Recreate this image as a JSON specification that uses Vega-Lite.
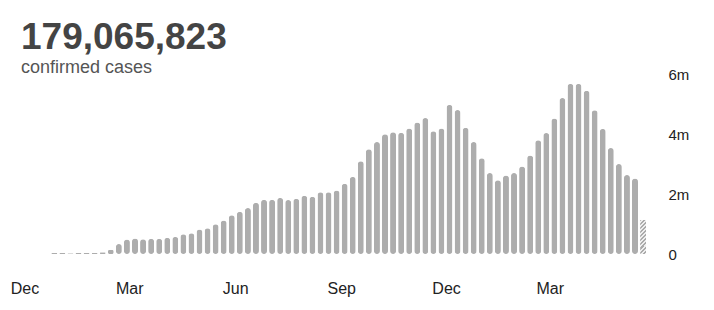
{
  "$schema": "https://vega.github.io/schema/vega-lite/v6.json",
  "width": 660,
  "height": 180,
  "autosize": {"type": "none"},
  "padding": {"left": 0, "top": 74, "right": 54, "bottom": 56},
  "background": "white",
  "config": {"view": {"stroke": null}, "font": "Liberation Sans"},
  "title": {
    "text": "179,065,823",
    "subtitle": "confirmed cases",
    "anchor": "start",
    "frame": "group",
    "font": "Liberation Sans",
    "fontSize": 37,
    "fontWeight": "bold",
    "color": "#444444",
    "subtitleFont": "Liberation Sans",
    "subtitleFontSize": 18,
    "subtitleColor": "#555555",
    "subtitlePadding": 2,
    "offset": 0,
    "dx": 21,
    "dy": 11
  },
  "data": {
    "values": [
      {"week": "2019-12-27", "cases": 30000, "partial": false},
      {"week": "2020-01-03", "cases": 30000, "partial": false},
      {"week": "2020-01-10", "cases": 25000, "partial": false},
      {"week": "2020-01-17", "cases": 30000, "partial": false},
      {"week": "2020-01-24", "cases": 30000, "partial": false},
      {"week": "2020-01-31", "cases": 35000, "partial": false},
      {"week": "2020-02-07", "cases": 60000, "partial": false},
      {"week": "2020-02-14", "cases": 140000, "partial": false},
      {"week": "2020-02-21", "cases": 330000, "partial": false},
      {"week": "2020-02-28", "cases": 480000, "partial": false},
      {"week": "2020-03-06", "cases": 520000, "partial": false},
      {"week": "2020-03-13", "cases": 490000, "partial": false},
      {"week": "2020-03-20", "cases": 510000, "partial": false},
      {"week": "2020-03-27", "cases": 510000, "partial": false},
      {"week": "2020-04-03", "cases": 540000, "partial": false},
      {"week": "2020-04-10", "cases": 570000, "partial": false},
      {"week": "2020-04-17", "cases": 660000, "partial": false},
      {"week": "2020-04-24", "cases": 690000, "partial": false},
      {"week": "2020-05-01", "cases": 820000, "partial": false},
      {"week": "2020-05-08", "cases": 860000, "partial": false},
      {"week": "2020-05-15", "cases": 990000, "partial": false},
      {"week": "2020-05-22", "cases": 1120000, "partial": false},
      {"week": "2020-05-29", "cases": 1290000, "partial": false},
      {"week": "2020-06-05", "cases": 1410000, "partial": false},
      {"week": "2020-06-12", "cases": 1530000, "partial": false},
      {"week": "2020-06-19", "cases": 1710000, "partial": false},
      {"week": "2020-06-26", "cases": 1810000, "partial": false},
      {"week": "2020-07-03", "cases": 1810000, "partial": false},
      {"week": "2020-07-10", "cases": 1870000, "partial": false},
      {"week": "2020-07-17", "cases": 1800000, "partial": false},
      {"week": "2020-07-24", "cases": 1840000, "partial": false},
      {"week": "2020-07-31", "cases": 1940000, "partial": false},
      {"week": "2020-08-07", "cases": 1910000, "partial": false},
      {"week": "2020-08-14", "cases": 2060000, "partial": false},
      {"week": "2020-08-21", "cases": 2060000, "partial": false},
      {"week": "2020-08-28", "cases": 2120000, "partial": false},
      {"week": "2020-09-04", "cases": 2340000, "partial": false},
      {"week": "2020-09-11", "cases": 2570000, "partial": false},
      {"week": "2020-09-18", "cases": 3090000, "partial": false},
      {"week": "2020-09-25", "cases": 3490000, "partial": false},
      {"week": "2020-10-02", "cases": 3730000, "partial": false},
      {"week": "2020-10-09", "cases": 3990000, "partial": false},
      {"week": "2020-10-16", "cases": 4060000, "partial": false},
      {"week": "2020-10-23", "cases": 4040000, "partial": false},
      {"week": "2020-10-30", "cases": 4180000, "partial": false},
      {"week": "2020-11-06", "cases": 4380000, "partial": false},
      {"week": "2020-11-13", "cases": 4530000, "partial": false},
      {"week": "2020-11-20", "cases": 4090000, "partial": false},
      {"week": "2020-11-27", "cases": 4180000, "partial": false},
      {"week": "2020-12-04", "cases": 4970000, "partial": false},
      {"week": "2020-12-11", "cases": 4800000, "partial": false},
      {"week": "2020-12-18", "cases": 4210000, "partial": false},
      {"week": "2020-12-25", "cases": 3730000, "partial": false},
      {"week": "2021-01-01", "cases": 3190000, "partial": false},
      {"week": "2021-01-08", "cases": 2700000, "partial": false},
      {"week": "2021-01-15", "cases": 2460000, "partial": false},
      {"week": "2021-01-22", "cases": 2620000, "partial": false},
      {"week": "2021-01-29", "cases": 2700000, "partial": false},
      {"week": "2021-02-05", "cases": 2920000, "partial": false},
      {"week": "2021-02-12", "cases": 3280000, "partial": false},
      {"week": "2021-02-19", "cases": 3790000, "partial": false},
      {"week": "2021-02-26", "cases": 4030000, "partial": false},
      {"week": "2021-03-05", "cases": 4520000, "partial": false},
      {"week": "2021-03-12", "cases": 5200000, "partial": false},
      {"week": "2021-03-19", "cases": 5670000, "partial": false},
      {"week": "2021-03-26", "cases": 5670000, "partial": false},
      {"week": "2021-04-02", "cases": 5440000, "partial": false},
      {"week": "2021-04-09", "cases": 4790000, "partial": false},
      {"week": "2021-04-16", "cases": 4170000, "partial": false},
      {"week": "2021-04-23", "cases": 3530000, "partial": false},
      {"week": "2021-04-30", "cases": 3000000, "partial": false},
      {"week": "2021-05-07", "cases": 2630000, "partial": false},
      {"week": "2021-05-14", "cases": 2520000, "partial": false},
      {"week": "2021-05-21", "cases": 1140000, "partial": true}
    ]
  },
  "encoding": {
    "x": {
      "field": "week",
      "type": "temporal",
      "scale": {
        "type": "utc",
        "padding": 0,
        "domain": [
          {"year": 2019, "month": 11, "date": 9, "hours": 19, "minutes": 40, "utc": true},
          {"year": 2021, "month": 6, "date": 4, "hours": 16, "minutes": 48, "utc": true}
        ]
      },
      "axis": {
        "title": null,
        "values": [
          {"year": 2019, "month": 12, "date": 1, "utc": true},
          {"year": 2020, "month": 3, "date": 1, "utc": true},
          {"year": 2020, "month": 6, "date": 1, "utc": true},
          {"year": 2020, "month": 9, "date": 1, "utc": true},
          {"year": 2020, "month": 12, "date": 1, "utc": true},
          {"year": 2021, "month": 3, "date": 1, "utc": true}
        ],
        "format": "%b",
        "ticks": false,
        "tickSize": 0,
        "domain": false,
        "grid": false,
        "labelFlush": false,
        "labelOverlap": false,
        "labelPadding": 26,
        "labelFont": "Liberation Sans",
        "labelFontSize": 16,
        "labelColor": "#222222"
      }
    },
    "y": {
      "field": "cases",
      "type": "quantitative",
      "scale": {"domain": [0, 6000000], "nice": false},
      "axis": {
        "orient": "right",
        "title": null,
        "values": [0, 2000000, 4000000, 6000000],
        "labelExpr": "datum.value == 0 ? '0' : (datum.value / 1000000) + 'm'",
        "ticks": false,
        "tickSize": 0,
        "domain": false,
        "grid": false,
        "labelPadding": 8,
        "labelFont": "Liberation Sans",
        "labelFontSize": 15,
        "labelColor": "#222222"
      }
    }
  },
  "layer": [
    {
      "transform": [{"filter": "!datum.partial"}],
      "mark": {"type": "bar", "width": 6, "cornerRadius": 3, "color": "#adadad"}
    },
    {
      "transform": [{"filter": "datum.partial"}],
      "mark": {
        "type": "bar",
        "width": 6,
        "cornerRadius": 1,
        "fill": {
          "gradient": "linear",
          "x1": 0, "y1": 0, "x2": 0.211, "y2": 1.2,
          "stops": [
            {"offset": 0, "color": "#aaaaaa"}, {"offset": 0.0475, "color": "#aaaaaa"},
            {"offset": 0.0475, "color": "#eeeeee"}, {"offset": 0.095, "color": "#eeeeee"},
            {"offset": 0.095, "color": "#aaaaaa"}, {"offset": 0.1425, "color": "#aaaaaa"},
            {"offset": 0.1425, "color": "#eeeeee"}, {"offset": 0.19, "color": "#eeeeee"},
            {"offset": 0.19, "color": "#aaaaaa"}, {"offset": 0.2375, "color": "#aaaaaa"},
            {"offset": 0.2375, "color": "#eeeeee"}, {"offset": 0.285, "color": "#eeeeee"},
            {"offset": 0.285, "color": "#aaaaaa"}, {"offset": 0.3325, "color": "#aaaaaa"},
            {"offset": 0.3325, "color": "#eeeeee"}, {"offset": 0.38, "color": "#eeeeee"},
            {"offset": 0.38, "color": "#aaaaaa"}, {"offset": 0.4275, "color": "#aaaaaa"},
            {"offset": 0.4275, "color": "#eeeeee"}, {"offset": 0.475, "color": "#eeeeee"},
            {"offset": 0.475, "color": "#aaaaaa"}, {"offset": 0.5225, "color": "#aaaaaa"},
            {"offset": 0.5225, "color": "#eeeeee"}, {"offset": 0.57, "color": "#eeeeee"},
            {"offset": 0.57, "color": "#aaaaaa"}, {"offset": 0.6175, "color": "#aaaaaa"},
            {"offset": 0.6175, "color": "#eeeeee"}, {"offset": 0.665, "color": "#eeeeee"},
            {"offset": 0.665, "color": "#aaaaaa"}, {"offset": 0.7125, "color": "#aaaaaa"},
            {"offset": 0.7125, "color": "#eeeeee"}, {"offset": 0.76, "color": "#eeeeee"},
            {"offset": 0.76, "color": "#aaaaaa"}, {"offset": 0.8075, "color": "#aaaaaa"},
            {"offset": 0.8075, "color": "#eeeeee"}, {"offset": 0.855, "color": "#eeeeee"},
            {"offset": 0.855, "color": "#aaaaaa"}, {"offset": 0.9025, "color": "#aaaaaa"},
            {"offset": 0.9025, "color": "#eeeeee"}, {"offset": 0.95, "color": "#eeeeee"},
            {"offset": 0.95, "color": "#aaaaaa"}, {"offset": 1, "color": "#aaaaaa"}
          ]
        }
      }
    }
  ]
}
